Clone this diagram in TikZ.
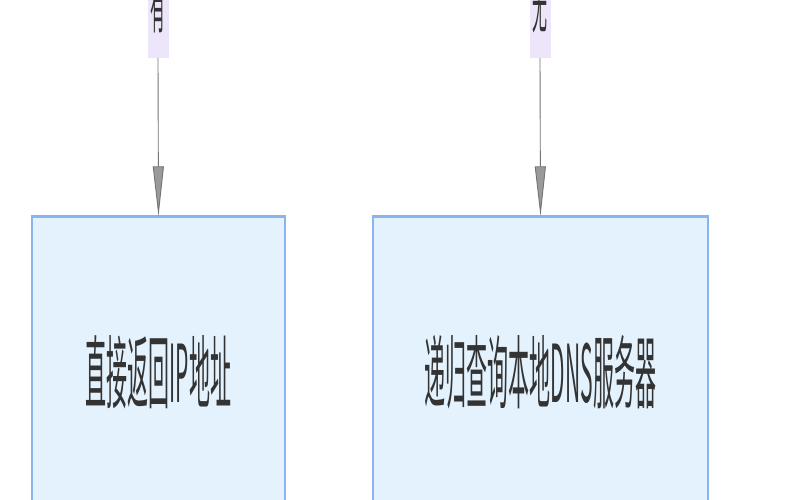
\documentclass[tikz,border=0pt]{standalone}
\usepackage{fontspec}
\newfontfamily\cjk{Noto Sans CJK SC}
\usetikzlibrary{arrows.meta}
\definecolor{boxfill}{HTML}{E3F2FD}
\definecolor{boxedge}{HTML}{8AB4F0}
\definecolor{lblfill}{HTML}{EDE6FA}
\definecolor{txtgray}{HTML}{333333}
\definecolor{arrgray}{HTML}{9A9A9A}
\newcommand{\tall}[1]{\scalebox{1}[3.8]{#1}}
\tikzset{
  stepbox/.style={draw=boxedge,fill=boxfill,line width=1.4pt,inner sep=0pt,
    font=\cjk\fontsize{21}{22}\selectfont,text=txtgray},
  edgelbl/.style={fill=lblfill,inner xsep=3pt,inner ysep=25pt,anchor=south,
    font=\cjk\fontsize{15}{16}\selectfont,text=txtgray},
  flow/.style={draw=arrgray!75!black,line width=.9pt,
    -{Triangle[length=50pt,width=11pt,fill=arrgray]}}
}
\begin{document}
\begin{tikzpicture}[x=1pt,y=-1pt]
    \useasboundingbox (0,0) rectangle (800,500);
    \clip (0,0) rectangle (800,500);
    \node[stepbox,minimum width=253pt,minimum height=310pt] (retIP) at (158.5,372) {\tall{直接返回IP地址}};
    \node[stepbox,minimum width=335pt,minimum height=310pt] (askDNS) at (540.5,372) {\tall{递归查询本地DNS服务器}};
    \draw[boxedge,line width=3.5pt] (retIP.north west)--(retIP.north east);
    \draw[boxedge,line width=3.5pt] (askDNS.north west)--(askDNS.north east);
    \node[edgelbl] (yes) at (158,58) {\tall{有}};
    \node[edgelbl] (no) at (540,58) {\tall{无}};
    \draw[flow] (yes.south) -- (retIP.north);
    \draw[flow] (no.south) -- (askDNS.north);
\end{tikzpicture}
\end{document}
